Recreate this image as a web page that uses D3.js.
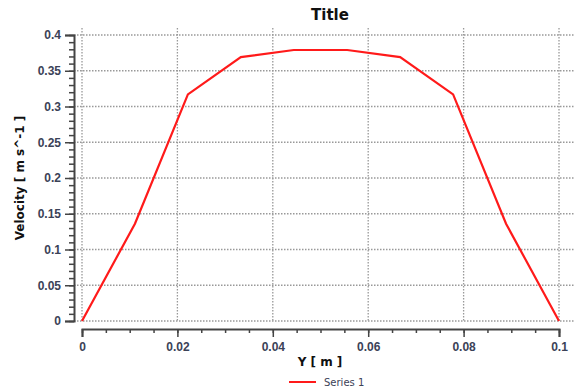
<!DOCTYPE html>
<html>
<head>
<meta charset="utf-8">
<script src="https://cdn.jsdelivr.net/npm/d3@7"></script>
<style>
  body { margin: 0; background: #fff; }
  svg { display: block; font-family: "DejaVu Sans", Verdana, sans-serif; }
</style>
</head>
<body>
<svg id="chart" width="574" height="389"></svg>
<script>
// data
const positions = [0, 0.0111, 0.0222, 0.0333, 0.0444, 0.0556, 0.0667, 0.0778, 0.0889, 0.1];
const velocity = [0, 0.136, 0.317, 0.369, 0.379, 0.379, 0.369, 0.317, 0.136, 0];
const xTicks = [0, 0.02, 0.04, 0.06, 0.08, 0.1];
const yTicks = [0, 0.05, 0.1, 0.15, 0.2, 0.25, 0.3, 0.35, 0.4];
const seriesName = "Series 1";

const svg = d3.select("#chart");
const textColor = "#3b4257";

const x = d3.scaleLinear().domain([0, 0.1]).range([82, 559]);
const y = d3.scaleLinear().domain([0, 0.4]).range([321, 35]);

// grid
const grid = svg.append("g").attr("stroke", "#999").attr("stroke-width", 1.3).attr("stroke-dasharray", "1.5,1.5");
grid.selectAll(".hg").data(yTicks).enter().append("line")
  .attr("x1", 74).attr("x2", 574)
  .attr("y1", d => y(d)).attr("y2", d => y(d));
grid.selectAll(".vg").data(xTicks).enter().append("line")
  .attr("x1", d => x(d)).attr("x2", d => x(d))
  .attr("y1", 28).attr("y2", 321);

// y axis (ticks drawn at x=74)
const yAxis = svg.append("g").attr("transform", "translate(74,0)")
  .call(d3.axisLeft(y).tickValues(yTicks).tickSize(9).tickPadding(4).tickFormat(d3.format("~g")));
svg.append("g").attr("transform", "translate(74,0)")
  .call(d3.axisLeft(y).tickValues(d3.range(0, 0.4001, 0.01)).tickSize(5).tickFormat(""))
  .call(g => g.select(".domain").remove());

// x axis
const xAxis = svg.append("g").attr("transform", "translate(0,329)")
  .call(d3.axisBottom(x).tickValues(xTicks).tickSize(8).tickPadding(5).tickFormat(d3.format("~g")));
svg.append("g").attr("transform", "translate(0,329)")
  .call(d3.axisBottom(x).tickValues(d3.range(0, 0.1001, 0.005)).tickSize(4).tickFormat(""))
  .call(g => g.select(".domain").remove());

svg.selectAll(".domain").attr("stroke", "#444").attr("stroke-width", 2);
svg.selectAll(".tick line").attr("stroke", "#444").attr("stroke-width", 1.5);
svg.selectAll(".tick text")
  .attr("fill", textColor)
  .style("font-size", "12px")
  .style("font-weight", "bold");

// line
const line = d3.line().x((d, i) => x(positions[i])).y(d => y(d));
svg.append("path")
  .datum(velocity)
  .attr("fill", "none")
  .attr("stroke", "#ff1a1a")
  .attr("stroke-width", 2.2)
  .attr("d", line);

// title and labels
svg.append("text").attr("x", 330).attr("y", 20).attr("text-anchor", "middle")
  .style("font-size", "15px").style("font-weight", "bold").attr("fill", "#111")
  .text("Title");
svg.append("text").attr("x", 320).attr("y", 366).attr("text-anchor", "middle")
  .style("font-size", "12px").style("font-weight", "bold").attr("fill", "#111")
  .text("Y [ m ]");
svg.append("text").attr("transform", "translate(24,178) rotate(-90)").attr("text-anchor", "middle")
  .style("font-size", "12px").style("font-weight", "bold").attr("fill", "#111")
  .text("Velocity [ m s^-1 ]");

// legend
const legend = svg.append("g").attr("transform", "translate(289,382)");
legend.append("line").attr("x1", 0).attr("x2", 27).attr("stroke", "#ff1a1a").attr("stroke-width", 2);
legend.append("text").attr("x", 35).attr("y", 4).style("font-size", "10px").attr("fill", textColor)
  .text(seriesName);
</script>
</body>
</html>
